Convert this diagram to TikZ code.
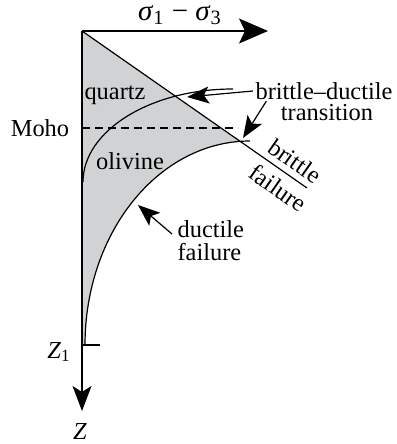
\documentclass[tikz,border=0pt]{standalone}
\usepackage{fontspec}
\setmainfont{Liberation Serif}
\usetikzlibrary{arrows.meta}
\definecolor{crust}{RGB}{208,210,212}
\tikzset{
  lbl/.style={font=\fontsize{12.2}{11.5}\selectfont, inner sep=0pt},
  pointer/.style={line width=0.6pt, -{Stealth[length=11pt,width=8.5pt,inset=2.5pt]}},
}

\begin{document}
\begin{tikzpicture}[x=0.5pt,y=-0.5pt,line width=0.6pt]
        \useasboundingbox (0,0) rectangle (396,444);
        % Points
        \coordinate (O) at (82,31);
        \coordinate (X) at (268,31);
        \coordinate (Z) at (82,411);
        \coordinate (B) at (307,188);
        % Zone grise
        \begin{scope}
          \clip (O) -- (B) -- (307,350) -- (82,350) -- cycle;
          \fill[crust] (82,345) -- (85,345) .. controls (85,232) and (159,141) .. (250,141)
            -- (250,31) -- (O) -- cycle;
        \end{scope}
        % Courbes ductiles
        \draw (83,182) .. controls (83,131) and (150,89) .. (233,89);
        \draw (85,345) .. controls (85,232) and (159,141) .. (250,141);
        % Rupture fragile
        \draw (O) -- (B);
        % Moho
        \draw[dashed, dash pattern=on 4pt off 2.5pt] (82,128) -- (238,128);
        % Axes
        \draw[-{Stealth[length=14.5pt,width=12.5pt,inset=3pt]}] (O) -- (X);
        \draw[-{Stealth[length=12.5pt,width=9.5pt,inset=3pt]}] (O) -- (Z);
        \draw (82,345) -- (100,345);
        % Textes
        \node[lbl, font=\fontsize{14.5}{14.5}\selectfont] (sig) at (180,15)
          {\textit{σ}\textsubscript{1} − \textit{σ}\textsubscript{3}};
        \node[lbl] (zz) at (80,432) {\textit{Z}};
        \node[lbl] (z1) at (59,352) {\textit{Z}\textsubscript{1}};
        \node[lbl] (moho) at (40,128) {Moho};
        \node[lbl] (qz) at (115,95) {quartz};
        \node[lbl] (ol) at (130,161) {olivine};
        \node[lbl, rotate=-35] (brit) at (295,161) {brittle};
        \node[lbl, rotate=-35] (fail) at (278,188) {failure};
        \node[lbl] (bdtA) at (324,91) {brittle–ductile};
        \node[lbl] (bdtB) at (327,113) {transition};
        \node[lbl, align=left, anchor=west] (duct) at (177,241) {ductile\\failure};
        % Fleches
        \coordinate (qtip) at (187,97);
        \coordinate (otip) at (243,138);
        \coordinate (dtip) at (138,205);
        \draw[pointer] ([xshift=-1pt]bdtA.west) -- (qtip);
        \draw[pointer] ([shift={(-14,-3)}]bdtB.north west) -- (otip);
        \draw[pointer] ([shift={(-5,-7)}]duct.west) -- (dtip);
    \end{tikzpicture}
\end{document}
